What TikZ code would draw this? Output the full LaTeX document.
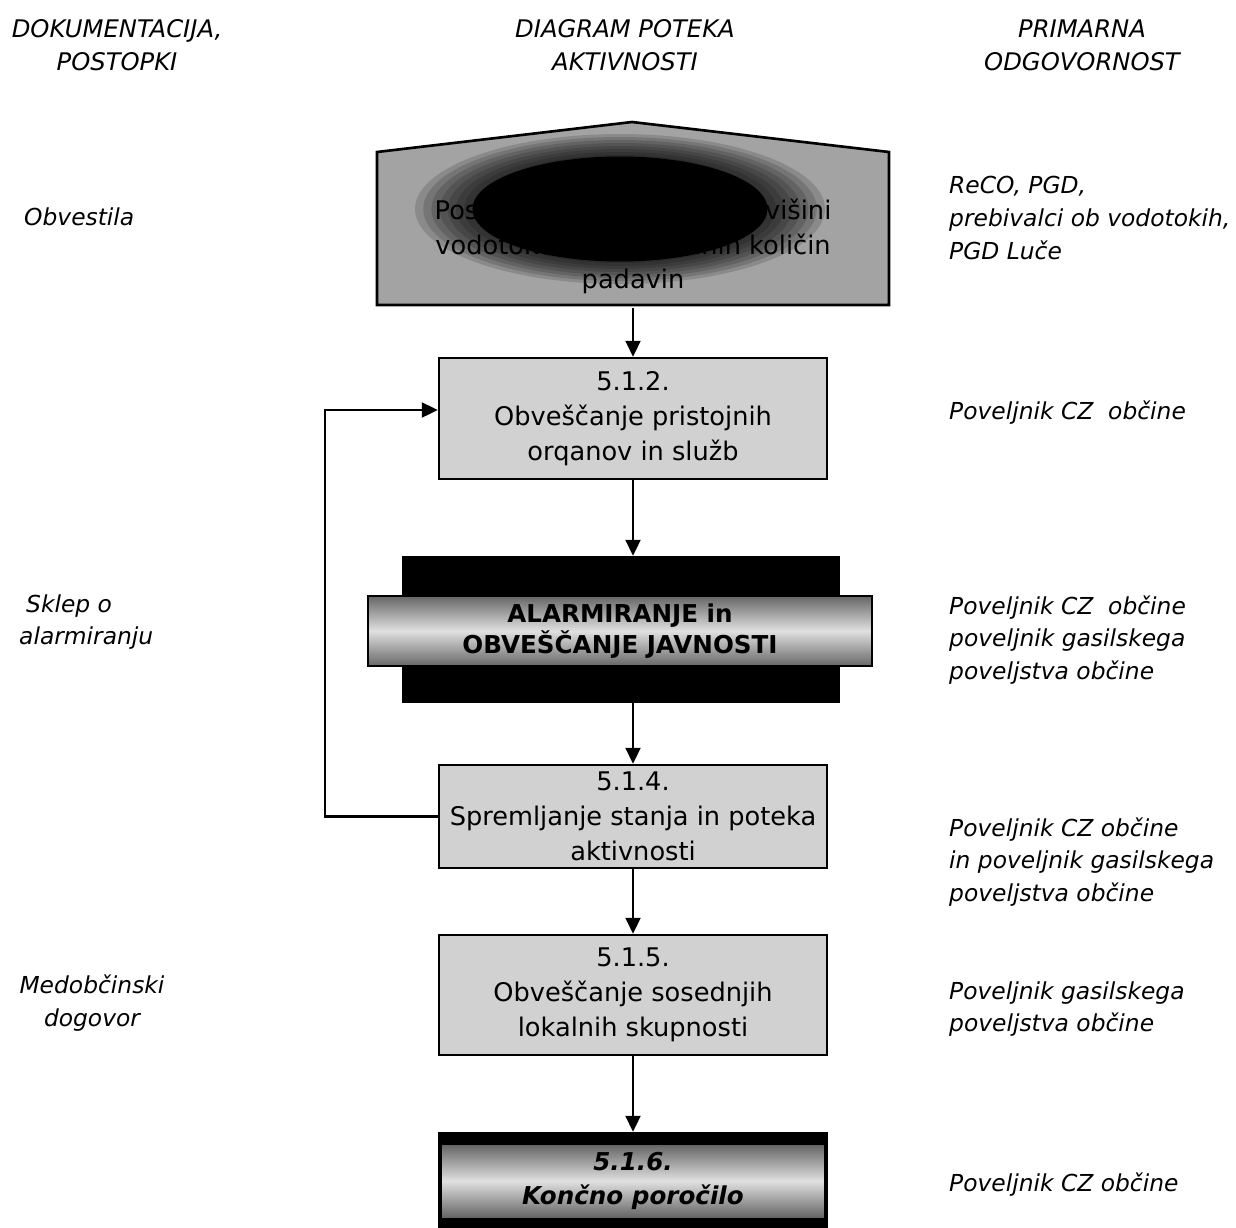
\documentclass[tikz,border=0pt]{standalone}
\usepackage{fontspec}
\setmainfont{DejaVu Sans}
\usetikzlibrary{arrows.meta,positioning}

\definecolor{boxgray}{gray}{0.82}
\definecolor{topgray}{gray}{0.64}

\begin{document}
\begin{tikzpicture}[x=0.02cm, y=-0.02cm, >={Triangle[length=9pt,width=8.5pt]}]

        \def\bw{7.76}     % width of the activity boxes
        \def\ax{633}      % x of the activity column
        \def\rx{943}      % left edge of the responsibility column
        \tikzstyle{akt}=[draw=black, line width=1.5pt, fill=boxgray, minimum width=\bw cm, align=center, inner sep=0pt,
                         font={\fontsize{14.6pt}{19.8pt}\selectfont}]
        \tikzstyle{dark}=[draw=black, line width=1.5pt, fill=black, inner sep=0pt]
        \tikzstyle{band}=[draw=black, line width=1.2pt, top color=black!60, bottom color=black!60, middle color=black!12,
                          inner sep=0pt, align=center]
        \tikzstyle{head}=[align=center, font={\fontsize{13.8pt}{18.7pt}\selectfont\itshape}]
        \tikzstyle{doc}=[align=left, font={\fontsize{13.3pt}{18.7pt}\selectfont\itshape}]
        \tikzstyle{resp}=[anchor=west, align=left, font={\fontsize{13.3pt}{18.7pt}\selectfont\itshape}]
        \tikzstyle{flow}=[->, line width=1.2pt]

        \clip (0,0) rectangle (1236,1227);

        % Column heads
        \node[head] (Hd-1) at (117,45) {DOKUMENTACIJA,\\POSTOPKI};
        \node[head] (Hd-2) at (625,45) {DIAGRAM POTEKA\\AKTIVNOSTI};
        \node[head] (Hd-3) at (1082,45) {PRIMARNA\\ODGOVORNOST};

        % First activity, house shaped box with smudged text
        \filldraw[fill=topgray, line width=1.5pt, line join=miter] (377,305) -- (377,152) -- (632,122) -- (889,152) -- (889,305) -- cycle;
        \node[akt, draw=none, fill=none, minimum width=10.24cm, minimum height=3.06cm] (Ak-1) at (\ax,230)
            {5.1.1.\\Posredovanje podatkov o višini\\vodotokov in povečanih količin\\padavin};
        \foreach \r in {1.0,0.96,...,0.72}
            \fill[black, opacity=0.15] (620,209) ellipse [x radius=\r*4.1cm, y radius=\r*1.5cm];
        \fill[black] (620,209) ellipse [x radius=2.95cm, y radius=1.05cm];

        % The other activities
        \node[akt, minimum height=2.42cm] (Ak-2) at (\ax,418.5) {5.1.2.\\Obveščanje pristojnih\\orqanov in služb};
        \node[dark, minimum width=8.7cm, minimum height=2.9cm] (Al) at (621,629.5) {};
        \node[band, minimum width=10.08cm, minimum height=1.4cm, font={\fontsize{14pt}{17.6pt}\selectfont\bfseries}] (Al-b) at (620,631)
            {ALARMIRANJE in\\OBVEŠČANJE JAVNOSTI};
        \node[akt, minimum height=2.06cm] (Ak-4) at (\ax,816.5) {5.1.4.\\Spremljanje stanja in poteka\\aktivnosti};
        \node[akt, minimum height=2.4cm] (Ak-5) at (\ax,995) {5.1.5.\\Obveščanje sosednjih\\lokalnih skupnosti};
        \node[dark, minimum width=\bw cm, minimum height=2.14cm] (Ak-6) at (\ax,1186.5) {};
        \node[band, draw=none, minimum width=7.64cm, minimum height=1.44cm, font={\fontsize{14pt}{19.8pt}\selectfont\bfseries\itshape}] (Ak-6b) at (\ax,1181)
            {5.1.6.\\Končno poročilo};

        % Connect the activities
        \foreach \a/\b in {Ak-1/Ak-2, Ak-2/Al, Al/Ak-4, Ak-4/Ak-5, Ak-5/Ak-6}
            \draw[flow] (\a.south -| Ak-2.south) -- (\b.north -| Ak-2.south);

        % Feedback from monitoring back to informing
        \coordinate (Lp) at (325,410);
        \draw[flow] (Ak-4.west) -| (Lp) -- (Lp -| Ak-2.west);

        % Documentation column
        \node[doc, anchor=west] (Do-1) at (18,217) {Obvestila};
        \node[doc, anchor=west] (Do-2) at (13,622) {\hspace*{4pt}Sklep o\\alarmiranju};
        \node[doc, align=center] (Do-3) at (92,1003) {Medobčinski\\dogovor};

        % Responsibility column
        \foreach \n/\y/\t in {1/218/{ReCO, PGD,\\prebivalci ob vodotokih,\\PGD Luče},
                              2/413/{Poveljnik CZ\ \ občine},
                              3/640/{Poveljnik CZ\ \ občine\\poveljnik gasilskega\\poveljstva občine},
                              4/862/{Poveljnik CZ občine\\in poveljnik gasilskega\\poveljstva občine},
                              5/1009/{Poveljnik gasilskega\\poveljstva občine},
                              6/1185/{Poveljnik CZ občine}}
            \node[resp] (Od-\n) at (\rx,\y) {\t};

\end{tikzpicture}
\end{document}
